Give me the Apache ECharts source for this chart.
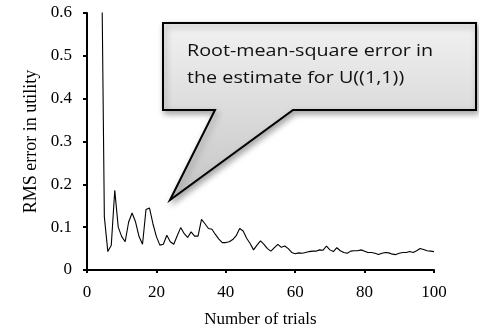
<!DOCTYPE html>
<html>
<head>
<meta charset="utf-8">
<script src="https://cdn.jsdelivr.net/npm/echarts@6/dist/echarts.min.js"></script>
<style>
  html, body { margin: 0; padding: 0; background: #fff; }
  #main { width: 479px; height: 328px; }
</style>
</head>
<body>
<div id="main"></div>
<script>
// number of trials (x) and RMS error (y)
var trials = [4, 5, 6, 7, 8, 9, 10, 11, 12, 13, 14, 15, 16, 17, 18, 19, 20,
  21, 22, 23, 24, 25, 26, 27, 28, 29, 30, 31, 32, 33, 34, 35, 36, 37, 38, 39, 40,
  41, 42, 43, 44, 45, 46, 47, 48, 49, 50, 51, 52, 53, 54, 55, 56, 57, 58, 59, 60,
  61, 62, 63, 64, 65, 66, 67, 68, 69, 70, 71, 72, 73, 74, 75, 76, 77, 78, 79, 80,
  81, 82, 83, 84, 85, 86, 87, 88, 89, 90, 91, 92, 93, 94, 95, 96, 97, 98, 99, 100];
var rmsError = [0.9, 0.124, 0.043, 0.058, 0.186, 0.100, 0.078, 0.066, 0.112, 0.133, 0.112, 0.078, 0.060, 0.141, 0.145, 0.108, 0.078,
  0.058, 0.060, 0.081, 0.066, 0.060, 0.080, 0.099, 0.085, 0.076, 0.089, 0.079, 0.079, 0.118, 0.108, 0.097, 0.095, 0.083, 0.072, 0.064, 0.064,
  0.066, 0.071, 0.080, 0.097, 0.091, 0.074, 0.062, 0.047, 0.058, 0.068, 0.060, 0.050, 0.044, 0.052, 0.060, 0.053, 0.056, 0.050, 0.041, 0.038,
  0.040, 0.039, 0.041, 0.043, 0.044, 0.044, 0.047, 0.046, 0.056, 0.047, 0.043, 0.052, 0.045, 0.041, 0.039, 0.044, 0.045, 0.045, 0.047, 0.044,
  0.041, 0.041, 0.039, 0.036, 0.039, 0.041, 0.040, 0.037, 0.036, 0.039, 0.041, 0.041, 0.043, 0.041, 0.045, 0.050, 0.048, 0.045, 0.044, 0.043];
var calloutLines = ['Root-mean-square error in', 'the estimate for U((1,1))'];

var points = trials.map(function (t, i) { return [t, rmsError[i]]; });

var myChart = echarts.init(document.getElementById('main'));
var serif = '"Liberation Serif", "Times New Roman", serif';

option = {
    animation: false,
    backgroundColor: '#fff',
    grid: { left: 87, right: 45, top: 13, bottom: 58, outerBoundsMode: 'none' },
    xAxis: {
        type: 'value',
        min: 0, max: 100, interval: 20,
        name: 'Number of trials',
        nameLocation: 'middle',
        nameGap: 41,
        nameTextStyle: { fontFamily: serif, fontSize: 17, color: '#000' },
        axisLine: { lineStyle: { color: '#000', width: 2 } },
        axisTick: { length: 3, lineStyle: { color: '#000', width: 2 } },
        axisLabel: { fontFamily: serif, fontSize: 17, color: '#000', margin: 14 },
        splitLine: { show: false }
    },
    yAxis: {
        type: 'value',
        min: 0, max: 0.6, interval: 0.1,
        name: 'RMS error in utility',
        nameLocation: 'middle',
        nameGap: 47,
        nameTextStyle: { fontFamily: serif, fontSize: 18, color: '#000' },
        axisLine: { show: true, lineStyle: { color: '#000', width: 2 } },
        axisTick: { show: true, length: 4, lineStyle: { color: '#000', width: 2 } },
        axisLabel: { fontFamily: serif, fontSize: 17, color: '#000', margin: 15,
            formatter: function (v) { return Math.round(v * 10) / 10 + ''; } },
        splitLine: { show: false }
    },
    series: [{
        type: 'line',
        data: points,
        showSymbol: false,
        clip: true,
        lineStyle: { color: '#000', width: 1.1 }
    }],
    graphic: [
        {
            type: 'polygon',
            shape: { points: [[163, 23], [476, 23], [476, 110], [293, 110], [170, 200], [215, 110], [163, 110]] },
            style: {
                fill: new echarts.graphic.LinearGradient(0, 0, 0, 1, [
                    { offset: 0, color: '#f2f2f2' },
                    { offset: 1, color: '#c4c4c4' }
                ]),
                stroke: '#000',
                lineWidth: 2,
                shadowBlur: 6,
                shadowOffsetX: 2,
                shadowOffsetY: 3,
                shadowColor: 'rgba(0,0,0,0.35)'
            },
            z: 10
        },
        {
            type: 'text',
            x: 187, y: 38,
            scaleX: 1.16,
            style: {
                text: calloutLines.join('\n'),
                font: '17px "Open Sans", sans-serif',
                lineHeight: 27,
                fill: '#111'
            },
            z: 11
        }
    ]
};

myChart.setOption(option);
</script>
</body>
</html>
